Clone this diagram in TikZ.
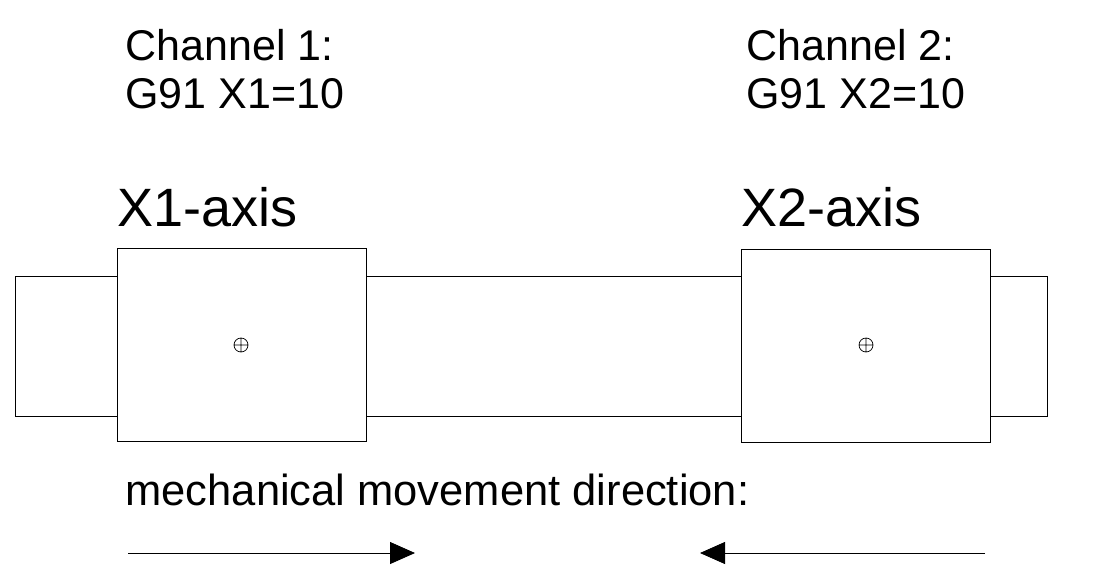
\documentclass[tikz,border=0pt]{standalone}
\usepackage{fontspec}
\setmainfont{Liberation Sans}
\usetikzlibrary{arrows.meta}
\begin{document}
\begin{tikzpicture}[x=1pt,y=-1pt,line width=1pt,
  box/.style={draw,line width=0.8pt},
  lbl/.style={anchor=base west,inner sep=0,font=\fontsize{43}{50}\selectfont},
  mlbl/.style={anchor=base west,inner sep=0,font=\fontsize{43.5}{50}\selectfont},
  axl/.style={anchor=base west,inner sep=0,font=\fontsize{54}{60}\selectfont},
  arr/.style={-{Triangle[length=25pt,width=22pt]},line width=0.8pt}]
\useasboundingbox (0,0) rectangle (1109,584);
\draw[box] (15,276) rectangle (117,416);
\draw[box] (366,276) rectangle (741,416);
\draw[box] (990,276) rectangle (1047,416);
\draw[box,fill=white] (117,248) rectangle (366,441);
\draw[box,fill=white] (741,249) rectangle (990,442);
\foreach \x in {241,866}{
  \draw[line width=0.7pt] (\x,345) circle (7) (\x-7,345) -- (\x+7,345) (\x,338) -- (\x,352);}
\node[lbl] (c1) at (125,60) {Channel 1:};
\node[lbl] (g1) at (125,108) {G91 X1=10};
\node[lbl] (c2) at (746,60) {Channel 2:};
\node[lbl] (g2) at (746,108) {G91 X2=10};
\node[axl] (a1) at (117,226) {X1-axis};
\node[axl] (a2) at (741,226) {X2-axis};
\node[mlbl] (m) at (125,505) {mechanical movement direction:};
\coordinate (l1) at (128,553); \coordinate (l2) at (415,553);
\coordinate (r1) at (985,553); \coordinate (r2) at (700,553);
\draw[arr] (l1) -- (l2);
\draw[arr] (r1) -- (r2);
\end{tikzpicture}
\end{document}
